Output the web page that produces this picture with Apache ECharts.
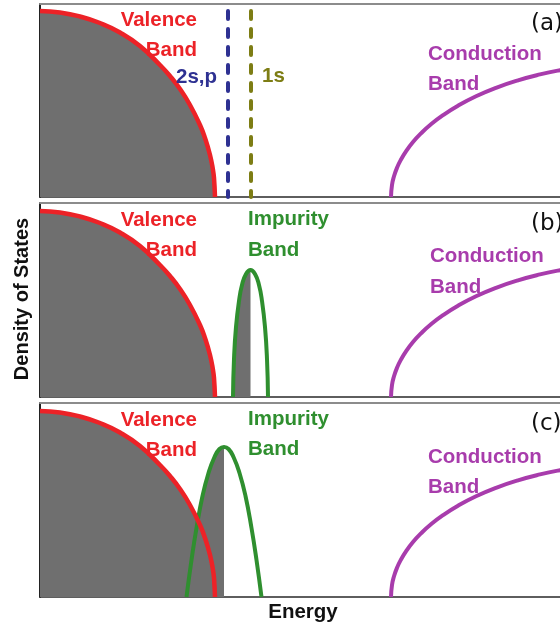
<!DOCTYPE html>
<html>
<head>
<meta charset="utf-8">
<script src="https://cdn.jsdelivr.net/npm/echarts@6/dist/echarts.min.js"></script>
<style>
  html, body { margin: 0; padding: 0; background: #ffffff; }
  #chart { width: 560px; height: 630px; }
</style>
</head>
<body>
<div id="chart"></div>
<script>
// Energy (arbitrary units) and density of states (arbitrary units)

// Valence band edge (filled underneath)
const valenceEnergy = [0, 20, 40, 60, 80, 100, 120, 130, 140, 150, 160, 165, 170, 173, 174, 175];
const valenceDos    = [186, 184.5, 180.5, 174, 164.5, 151, 132, 121, 108, 92, 72, 59, 42, 27, 19, 0];

// Conduction band edge
const conductionEnergy = [351, 352, 354, 357, 361, 366, 373, 381, 391, 403, 418, 436, 456, 478, 500, 520, 540];
const conductionDos    = [0, 12, 20.7, 29.2, 37.5, 45.7, 55, 63.6, 72.7, 81.8, 91.3, 100.7, 109.2, 116.7, 122.6, 126.8, 130];

// Discrete donor levels (panel a)
const level2sp = 188;
const level1s = 211;
const levelTop = 186;

// Narrow impurity band (panel b)
const impurityNarrowEnergy = [193, 194, 196, 199, 202, 206, 210.5, 215, 219, 222, 225, 227, 228];
const impurityNarrowDos    = [0, 38, 70, 96, 112, 123, 127, 123, 112, 96, 70, 38, 0];
const impurityNarrowPeak = 6;

// Broadened impurity band overlapping the valence band (panel c)
const impurityWideEnergy = [146.5, 151.5, 156.5, 162.5, 168.5, 174.5, 179.5, 184, 188.5, 193.5, 199.5, 205.5, 211.5, 216.5, 221.5];
const impurityWideDos    = [0, 37, 69, 101, 124, 140, 148, 150, 148, 140, 124, 101, 69, 37, 0];
const impurityWidePeak = 7;

const panelTags = ['(a)', '(b)', '(c)'];

const RED = '#ec2227';
const GRAY = '#6f6f6f';
const GREEN = '#2f8f2f';
const MAGENTA = '#a83cac';
const NAVY = '#2e3192';
const OLIVE = '#7d7d14';

const pairs = (xs, ys) => xs.map((x, i) => [x, ys[i]]);

// the frame runs on past the right edge of the page; the visible part spans 0..520
const grids = [
  { left: 40, right: 0, top: 4,   height: 193 },
  { left: 40, right: 0, top: 203, height: 194 },
  { left: 40, right: 0, top: 403, height: 194 }
];
const yMax = [193, 194, 194];
const xMax = 520;

const xAxes = [];
const yAxes = [];
grids.forEach((g, i) => {
  // bottom energy axis
  xAxes.push({
    type: 'value', gridIndex: i, min: 0, max: xMax, position: 'bottom',
    axisLine: { show: true, lineStyle: { color: '#2a2a2a', width: 1.5 } },
    axisTick: { show: false }, axisLabel: { show: false }, splitLine: { show: false }
  });
  // top frame line
  xAxes.push({
    type: 'value', gridIndex: i, min: 0, max: xMax, position: 'top',
    axisLine: { show: true, onZero: false, lineStyle: { color: '#8c8c8c', width: 2 } },
    axisTick: { show: false }, axisLabel: { show: false }, splitLine: { show: false }
  });
  yAxes.push({
    type: 'value', gridIndex: i, min: 0, max: yMax[i],
    axisLine: { show: true, lineStyle: { color: '#222222', width: 2 } },
    axisTick: { show: false }, axisLabel: { show: false }, splitLine: { show: false }
  });
});

const series = [];
function curve(panel, data, color, width, z, area) {
  const s = {
    type: 'line', xAxisIndex: panel * 2, yAxisIndex: panel,
    data: data, smooth: true, showSymbol: false, symbol: 'none',
    silent: true, animation: false, z: z, clip: true,
    lineStyle: { color: color, width: width }
  };
  if (area) {
    s.lineStyle = { width: 0, color: area };
    s.areaStyle = { color: area, opacity: 1 };
  }
  series.push(s);
}

const valence = pairs(valenceEnergy, valenceDos);
const conduction = pairs(conductionEnergy, conductionDos);
const narrow = pairs(impurityNarrowEnergy, impurityNarrowDos);
const wide = pairs(impurityWideEnergy, impurityWideDos);

for (let p = 0; p < 3; p++) {
  // occupied states (filled)
  curve(p, valence, null, 0, 1, GRAY);
  if (p === 1) curve(p, narrow.slice(0, impurityNarrowPeak + 1), null, 0, 1, GRAY);
  if (p === 2) curve(p, wide.slice(0, impurityWidePeak + 1), null, 0, 1, GRAY);
  // band edges
  if (p === 1) curve(p, narrow, GREEN, 4, 3);
  if (p === 2) curve(p, wide, GREEN, 4, 3);
  curve(p, valence, RED, 4.5, 4);
  curve(p, conduction, MAGENTA, 4, 4);
}

// dashed donor levels in panel a
[[level2sp, NAVY], [level1s, OLIVE]].forEach(([e, c]) => {
  series.push({
    type: 'line', xAxisIndex: 0, yAxisIndex: 0,
    data: [[e, levelTop], [e, 0]],
    showSymbol: false, symbol: 'none', silent: true, animation: false, z: 5,
    lineStyle: { color: c, width: 4, type: [8, 10], cap: 'round' }
  });
});

const bold = '"Liberation Sans", Arial, sans-serif';
function label(text, x, y, color, align, opts) {
  return Object.assign({
    type: 'text', x: x, y: y, silent: true, z: 10,
    style: {
      text: text, fill: color, align: align, verticalAlign: 'middle',
      font: 'bold 20.5px ' + bold
    }
  }, opts || {});
}

const graphics = [];
const offs = [0, 200, 400];
offs.forEach((dy, i) => {
  graphics.push(label('Valence', 197, 20 + dy, RED, 'right'));
  graphics.push(label('Band', 197, 50 + dy, RED, 'right'));
  graphics.push({
    type: 'text', x: 531, y: 24 + dy, silent: true, z: 10,
    style: { text: panelTags[i], fill: '#111111', align: 'left', verticalAlign: 'middle',
             font: '23px "DejaVu Sans", sans-serif' }
  });
});
// panel a
graphics.push(label('2s,p', 176, 77, NAVY, 'left'));
graphics.push(label('1s', 262, 76, OLIVE, 'left'));
graphics.push(label('Conduction', 428, 54, MAGENTA, 'left'));
graphics.push(label('Band', 428, 84, MAGENTA, 'left'));
// panel b
graphics.push(label('Impurity', 248, 219, GREEN, 'left'));
graphics.push(label('Band', 248, 250, GREEN, 'left'));
graphics.push(label('Conduction', 430, 256, MAGENTA, 'left'));
graphics.push(label('Band', 430, 287, MAGENTA, 'left'));
// panel c
graphics.push(label('Impurity', 248, 419, GREEN, 'left'));
graphics.push(label('Band', 248, 449, GREEN, 'left'));
graphics.push(label('Conduction', 428, 457, MAGENTA, 'left'));
graphics.push(label('Band', 428, 487, MAGENTA, 'left'));
// axis titles
graphics.push({
  type: 'text', x: 22, y: 299, rotation: Math.PI / 2, silent: true, z: 10,
  style: { text: 'Density of States', fill: '#111111', align: 'center', verticalAlign: 'middle',
           font: 'bold 20px ' + bold }
});
graphics.push(label('Energy', 303, 612, '#111111', 'center'));

const chart = echarts.init(document.getElementById('chart'), null, { renderer: 'canvas' });
chart.setOption({
  backgroundColor: '#ffffff',
  animation: false,
  grid: grids,
  xAxis: xAxes,
  yAxis: yAxes,
  series: series,
  graphic: graphics
});
</script>
</body>
</html>
